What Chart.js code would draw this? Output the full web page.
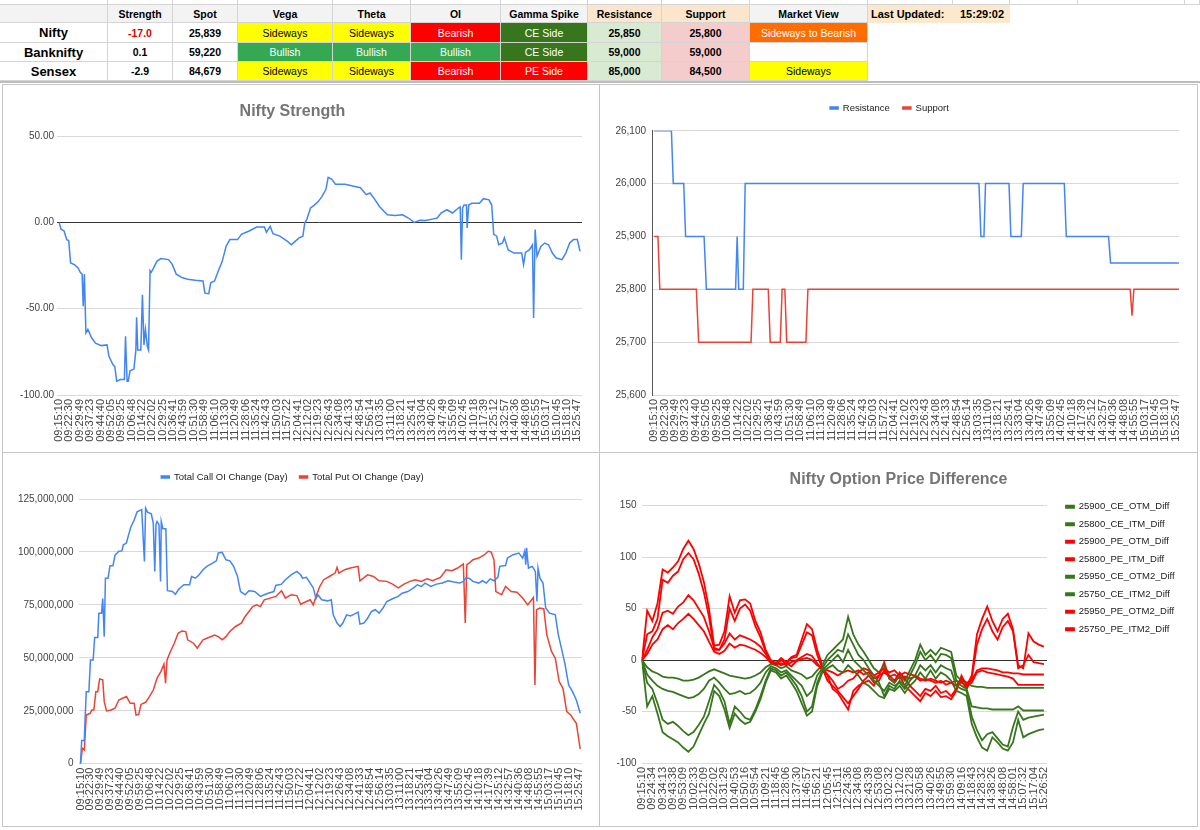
<!DOCTYPE html>
<html lang="en">
<head>
<meta charset="utf-8">
<title>Market Dashboard</title>
<script src="https://cdn.jsdelivr.net/npm/chart.js@4.4.1/dist/chart.umd.min.js"></script>
<style>
  html, body { margin: 0; padding: 0; background: #fff; }
  body { position: relative; width: 1200px; height: 830px; overflow: hidden;
         font-family: "Liberation Sans", Arial, sans-serif; }
  .cell { position: absolute; box-sizing: border-box; display: flex; align-items: center;
          justify-content: center; border-right: 1px solid #d4d4d4; border-bottom: 1px solid #d4d4d4;
          font-size: 10.5px; white-space: nowrap; color: #000; }
  .panel { position: absolute; box-sizing: border-box; border: 1px solid #c6c6c6; background: #fff; }
  .panel canvas { position: absolute; left: 0; top: 0; }
</style>
</head>
<body>
<div id="sheet"></div>
<div style="position:absolute;left:0;top:81px;width:1200px;height:2px;background:#bdbdbd"></div>

<div class="panel" style="left:2px;top:84px;width:598px;height:369px"><canvas id="strength-chart" width="596" height="367"></canvas></div>
<div class="panel" style="left:599px;top:84px;width:599px;height:369px"><canvas id="levels-chart" width="597" height="367"></canvas></div>
<div class="panel" style="left:2px;top:452px;width:598px;height:375px"><canvas id="oi-chart" width="596" height="373"></canvas></div>
<div class="panel" style="left:599px;top:452px;width:599px;height:375px"><canvas id="option-chart" width="597" height="373"></canvas></div>

<script>
// --- 1. TABLE DATA ---
const headerRow = ['', 'Strength', 'Spot', 'Vega', 'Theta', 'OI', 'Gamma Spike', 'Resistance', 'Support', 'Market View'];
const headerFill = ['#f3f3f3', '#f3f3f3', '#f3f3f3', '#f3f3f3', '#f3f3f3', '#f3f3f3', '#f3f3f3', '#fce5cd', '#fce5cd', '#f3f3f3'];
const indexRows = [
    ['Nifty', '-17.0', '25,839', 'Sideways', 'Sideways', 'Bearish', 'CE Side', '25,850', '25,800', 'Sideways to Bearish'],
    ['Banknifty', '0.1', '59,220', 'Bullish', 'Bullish', 'Bullish', 'CE Side', '59,000', '59,000', ''],
    ['Sensex', '-2.9', '84,679', 'Sideways', 'Sideways', 'Bearish', 'PE Side', '85,000', '84,500', 'Sideways']
];
const strengthTone = ['#e00000', '#000', '#000'];
const lastUpdated = '15:29:02';

// --- 2. CHART DATA ---
// x values are positions along the time axis, counted in tick labels
const sessionTimes = ['09:15:10','09:22:30','09:29:49','09:37:23','09:44:40','09:52:05','09:59:25','10:06:48','10:14:22','10:22:02',
    '10:29:25','10:36:41','10:43:59','10:51:30','10:58:49','11:06:10','11:13:30','11:20:49','11:28:06','11:35:24',
    '11:42:43','11:50:03','11:57:22','12:04:41','12:12:02','12:19:23','12:26:43','12:34:08','12:41:33','12:48:54',
    '12:56:14','13:03:35','13:11:00','13:18:21','13:25:41','13:33:04','13:40:26','13:47:49','13:55:09','14:02:45',
    '14:10:18','14:17:39','14:25:12','14:32:57','14:40:36','14:48:08','14:55:55','15:03:17','15:10:45','15:18:10','15:25:47'];

const optionTimes = ['09:15:10','09:24:34','09:34:13','09:43:38','09:53:09','10:02:33','10:12:09','10:22:02','10:31:29','10:40:53',
    '10:50:16','10:59:54','11:09:21','11:18:45','11:28:06','11:37:30','11:46:57','11:56:21','12:05:45','12:15:11',
    '12:24:36','12:34:08','12:43:39','12:53:08','13:02:32','13:12:02','13:21:28','13:30:58','13:40:26','13:49:55',
    '13:59:30','14:09:16','14:18:43','14:28:32','14:38:26','14:48:08','14:58:01','15:07:32','15:17:04','15:26:52'];

const niftyStrength = [[0,0],[0.19,-4],[0.48,-5],[0.74,-10],[0.93,-10.5],[1.11,-23.5],[1.48,-24.5],[1.85,-26.5],[2.04,-29],[2.22,-30],
    [2.33,-48.6],[2.44,-30],[2.59,-64],[2.78,-62],[3.15,-67],[3.52,-70],[4.07,-71.4],[4.63,-71],[4.81,-77.6],[5.19,-82.4],
    [5.37,-83.4],[5.56,-92],[5.93,-91],[6.30,-91],[6.41,-66],[6.56,-92],[6.67,-92],[6.85,-86],[7.22,-85],[7.41,-74],
    [7.48,-55],[7.59,-74],[7.89,-74],[8.04,-42],[8.19,-71],[8.33,-62],[8.52,-72],[8.63,-74],[8.78,-28],[8.89,-29],
    [9.07,-27],[9.44,-22.6],[9.81,-21],[10.56,-21.6],[10.93,-24.5],[11.30,-30],[11.85,-32],[12.41,-33],[13.15,-33.6],[13.89,-34],
    [14.07,-41],[14.44,-41.3],[14.63,-35],[15.0,-34],[15.37,-28],[15.74,-22.6],[16.11,-14],[16.48,-10],[17.22,-10],[17.59,-7],
    [18.33,-5],[19.07,-2.7],[19.81,-2.7],[20.0,-5.8],[20.37,-2.3],[20.63,-6.6],[21.30,-8],[22.04,-11],[22.41,-13],[22.78,-11],
    [23.15,-9],[23.52,-8],[23.70,-0.4],[23.89,1.5],[24.26,8.3],[24.63,10],[25.0,12],[25.37,15],[25.74,19],[25.96,26],
    [26.30,25],[26.67,22],[27.22,22],[27.59,22],[28.33,21],[29.07,20],[29.63,16],[30.0,17],[30.37,14],[30.93,9],
    [31.67,4.4],[32.41,3.9],[33.15,4.4],[33.70,2.5],[34.26,0],[34.81,1.2],[35.37,1],[36.11,2],[36.48,2.5],[36.85,5.4],
    [37.41,7.3],[37.96,5.4],[38.52,8.3],[38.70,9],[38.81,-21.6],[38.93,8.3],[39.07,10],[39.30,10],[39.37,-3.3],[39.52,10],
    [39.81,11],[40.56,11],[40.93,13.7],[41.48,13],[41.74,10],[41.93,-7],[42.22,-8],[42.41,-13],[42.78,-12],[42.96,-9],
    [43.33,-16],[43.89,-17.8],[44.63,-17.8],[44.81,-24.5],[45.0,-17.4],[45.37,-16],[45.67,-13],[45.78,-55.4],[45.93,-4.2],[46.11,-19.7],
    [46.48,-14],[46.85,-12],[47.22,-13],[47.59,-17.8],[47.96,-20.7],[48.52,-21.6],[48.89,-17.8],[49.26,-12],[49.63,-10],[50.0,-10],
    [50.26,-16.8]];

const resistanceLevels = [[0,26100],[1.66,26100],[1.84,26000],[2.84,26000],[3.02,25900],[4.79,25900],[5.01,25800],[7.81,25800],
    [7.96,25900],[8.11,25800],[8.55,25800],[8.73,26000],[31.13,26000],[31.32,25900],[31.61,25900],[31.76,26000],[34.01,26000],
    [34.19,25900],[35.19,25900],[35.37,26000],[39.31,26000],[39.50,25900],[43.55,25900],[43.74,25850],[50.29,25850]];
const supportLevels = [[0,25900],[0.37,25900],[0.55,25800],[4.05,25800],[4.27,25700],[9.29,25700],[9.47,25800],[10.94,25800],
    [11.13,25700],[12.09,25700],[12.27,25800],[12.53,25800],[12.71,25700],[14.55,25700],[14.74,25800],[45.62,25800],
    [45.80,25750],[45.98,25800],[50.29,25800]];

// open interest change, in millions of contracts
const callOiMillions = [[0,0],[0.12,11],[0.38,11],[0.46,21],[0.58,34],[0.84,34],[1.0,49],[1.27,49],[1.42,59.6],[1.73,59.6],
    [1.84,71],[2.11,71],[2.23,78],[2.38,60],[2.50,87.6],[2.76,87.6],[2.96,93.5],[3.26,93.5],[3.46,98.4],[3.84,100.3],
    [4.15,100.5],[4.30,103.4],[4.61,104.2],[4.80,107.7],[5.07,112],[5.38,115],[5.68,119],[6.14,120],[6.41,95.5],[6.53,120.7],
    [6.72,118.8],[7.10,118],[7.30,113.6],[7.45,90.8],[7.57,112.9],[7.68,114.4],[7.87,112.9],[8.03,86],[8.10,114.4],[8.26,111],
    [8.56,111],[8.72,81.7],[9.22,81.3],[9.52,80],[9.79,82],[9.98,83],[10.37,84.5],[10.94,84.5],[11.14,88.4],[11.52,87.6],
    [11.90,89.2],[12.29,91.6],[12.67,93.2],[13.25,94.7],[13.63,95.8],[13.82,99.5],[14.21,99.8],[14.59,96.3],[14.98,95.8],[15.36,93.2],
    [15.75,88.4],[16.05,81.3],[16.51,79.8],[16.90,81.7],[17.47,81.3],[18.05,79],[18.43,79.8],[18.82,80.5],[19.39,81.3],[19.59,84.2],
    [20.16,84.8],[20.55,86.9],[21.12,89.2],[21.70,90.8],[22.08,89.2],[22.27,87.6],[22.66,88],[23.04,85.3],[23.35,83],[23.62,78],
    [23.81,79.8],[24.19,77.4],[24.77,76.9],[25.15,77.4],[25.35,70.3],[25.73,66.4],[26.04,64.8],[26.31,66.4],[26.69,70.3],[27.07,69.8],
    [27.46,70.6],[27.84,71.6],[28.03,65.9],[28.42,66.4],[28.80,68.7],[29.19,71.9],[29.57,72.7],[29.95,71.1],[30.34,73.5],[30.72,76.6],
    [31.30,77.9],[31.87,79],[32.26,80.5],[32.83,81.3],[33.41,83],[33.79,84.5],[34.18,83.7],[34.56,85.3],[35.14,83.7],[35.71,84.8],
    [36.29,85.3],[36.87,86.4],[37.44,85.8],[38.02,85.3],[38.40,86.1],[38.63,87.6],[38.98,87.6],[39.36,86.1],[39.94,85.3],[40.32,86.4],
    [40.71,85.3],[41.09,87.3],[41.47,86.4],[41.86,88],[42.05,93.2],[42.63,93.6],[42.82,97.1],[43.39,98.7],[43.97,99.5],[44.35,97.1],
    [44.55,100.3],[44.66,94],[44.74,102],[44.93,92.4],[45.31,93.2],[45.62,90.8],[45.78,76.6],[45.89,92.4],[46.08,87.6],[46.39,85.3],
    [46.66,73.5],[47.04,71.1],[47.62,70.3],[47.93,60.8],[48.20,55.3],[48.58,47.4],[48.96,37.2],[49.35,34],[49.73,30.1],[50.12,23.8]];
const putOiMillions = [[0,0],[0.19,7.3],[0.38,6.5],[0.58,23],[0.96,23.8],[1.15,25.4],[1.34,25.4],[1.54,34],[1.73,34],[1.92,40],
    [2.23,39.6],[2.38,29.3],[2.61,24.9],[3.07,25.4],[3.46,26.2],[3.84,30.1],[4.22,30.9],[4.61,31.7],[4.99,28.5],[5.38,28.5],
    [5.57,23],[5.84,23.3],[6.07,28],[6.53,29],[6.91,31.7],[7.30,34.8],[7.68,40.4],[8.06,43.5],[8.37,47],[8.53,38],
    [8.68,49],[9.02,53],[9.41,56.9],[9.79,61.6],[10.18,62.7],[10.56,62.4],[10.75,58.5],[11.33,56.9],[11.71,54.5],[12.29,58.5],
    [12.86,59.6],[13.44,60.8],[13.82,60],[14.21,58.5],[14.59,60],[14.98,62.4],[15.55,64.8],[16.13,66.4],[16.51,69.5],[16.90,71.9],
    [17.28,74.2],[17.67,75],[18.05,74.2],[18.43,77.4],[19.01,78.2],[19.59,79],[20.16,81.7],[20.55,78.2],[21.12,79.8],[21.70,79.4],
    [22.08,75.3],[22.66,76.6],[23.04,77.4],[23.35,75],[23.62,79],[24.0,83.7],[24.39,86.9],[24.96,88.4],[25.54,90],[25.73,92.7],
    [25.92,90],[26.50,91.6],[27.07,92.4],[27.84,93.2],[28.03,86.4],[28.80,89.2],[29.38,88.4],[29.95,86.4],[30.72,86.1],[31.30,84.8],
    [31.87,83],[32.45,84.8],[33.03,86.1],[33.60,86.9],[34.18,86.1],[34.75,87.3],[35.33,86.4],[36.10,88],[36.67,91.6],[37.25,91.1],
    [37.83,92.4],[38.40,94.3],[38.59,66.4],[38.75,94],[38.98,94.7],[39.36,96.3],[39.94,97.1],[40.52,98.7],[40.90,100.3],[41.20,99.9],
    [41.47,96.3],[41.66,81.3],[42.24,79.8],[42.63,83.7],[43.20,81.3],[43.78,81],[44.35,78.2],[44.85,75],[45.12,76.6],[45.43,78.5],
    [45.58,37.2],[45.74,72.7],[46.08,73.5],[46.47,73.1],[46.77,60.8],[47.24,53],[47.62,49.8],[48.01,38.8],[48.39,35.6],[48.77,24.6],
    [49.16,23],[49.73,19.1],[50.12,6.9]];

// option price differences, one reading every half tick label
const OPTION_STEP = 0.5;
const ce25900Otm = [0,-14,-20,-25,-28,-30,-31,-33,-35,-37, -36,-33,-28,-20,-17,-22,-28,-33,-32,-30, -33,-32,-28,-22,-12,-6,-8,-12,-10,-15,
    -20,-25,-35,-30,-15,-8,0,5,10,8, 25,15,5,0,-8,-15,-22,-35,-25,-28, -20,-25,-15,-5,8,0,5,-2,6,5,
    2,-20,-25,-28,-45,-46,-47,-47,-48,-48, -48,-48,-48,-45,-49,-49,-49,-49,-49];
const ce25800Itm = [0,-22,-28,-42,-58,-62,-60,-64,-69,-73, -70,-63,-55,-40,-24,-30,-40,-62,-45,-50, -56,-58,-48,-35,-20,-8,-10,-15,-12,-18,
    -25,-35,-50,-45,-22,-10,-5,0,5,-2, 10,0,-5,-10,-15,-20,-25,-30,-22,-25, -22,-28,-20,-15,-5,-10,-5,-12,-5,-8,
    -10,-25,-28,-30,-55,-68,-78,-72,-70,-76, -82,-84,-65,-50,-58,-56,-55,-54,-53];
const pe25900Otm = [0,25,28,40,78,75,82,86,98,104, 98,84,66,42,10,10,20,50,38,50, 54,48,33,22,8,-2,-5,0,-4,2,
    3,15,27,24,5,-8,-20,-25,-30,-36, -42,-35,-28,-20,-15,-22,-20,-10,-15,-20, -12,-18,-25,-30,-35,-28,-30,-25,-32,-30,
    -35,-28,-20,-28,-18,15,30,40,28,20, 32,38,28,-8,-5,5,-2,-3,-4];
const pe25800Itm = [0,10,22,30,46,48,45,52,56,63, 58,50,42,28,12,10,16,26,20,24, 22,20,17,13,6,-2,-4,-3,-5,-2,
    0,3,6,4,-3,-10,-14,-20,-28,-25, -20,-18,-12,-8,-10,-15,-12,-8,-12,-10, -15,-12,-14,-15,-18,-20,-18,-20,-22,-20,
    -22,-25,-18,-22,-20,-10,-8,-8,-9,-10, -12,-12,-13,-13,-14,-14,-14,-14,-14];
const ce25950Otm2 = [0,-7,-11,-13,-16,-17,-17,-18,-20,-20, -19,-17,-14,-11,-9,-11,-13,-15,-16,-17, -18,-17,-15,-12,-7,-4,-5,-8,-6,-10,
    -12,-14,-18,-16,-10,-5,5,10,15,20, 42,25,15,8,0,-8,-12,-5,-18,-22, -15,-20,-10,0,15,5,10,5,12,10,
    8,-15,-20,-22,-25,-26,-26,-27,-27,-27, -27,-27,-27,-27,-27,-27,-27,-27,-27];
const ce25750Itm2 = [0,-45,-35,-52,-70,-74,-77,-80,-85,-89, -84,-73,-62,-52,-30,-35,-48,-66,-52,-58, -62,-60,-50,-38,-22,-10,-12,-18,-15,-22,
    -30,-42,-54,-50,-25,-12,-8,-5,-10,-12, -5,-10,-15,-22,-25,-30,-35,-37,-28,-30, -25,-32,-25,-20,-12,-18,-10,-18,-12,-15,
    -20,-30,-32,-35,-62,-75,-85,-88,-75,-80, -86,-88,-80,-58,-75,-72,-70,-68,-67];
const pe25950Otm2 = [0,48,38,55,88,85,90,96,108,116, 108,94,76,50,14,15,28,62,46,58, 59,55,38,27,10,0,-3,2,-2,3,
    5,20,35,30,10,-5,-15,-28,-32,-40, -48,-30,-25,-22,-20,-25,-15,-2,-18,-22, -15,-25,-30,-35,-40,-32,-35,-30,-36,-35,
    -38,-30,-15,-25,-15,25,40,52,38,28, 40,45,30,-5,-8,26,18,15,13];
const pe25750Itm2 = [0,6,15,20,30,34,30,36,40,45, 40,34,28,18,8,6,9,16,12,15, 14,12,10,7,3,-3,-2,-5,-3,-6,
    -1,1,2,0,-5,-8,-10,-12,-15,-12, -10,-12,-10,-14,-12,-18,-15,-12,-16,-14, -18,-16,-18,-16,-20,-18,-20,-22,-20,-24,
    -22,-20,-22,-25,-22,-12,-10,-12,-13,-14, -15,-16,-18,-24,-24,-24,-24,-24,-24];

// --- 3. SHEET TABLE ---
const sheet = document.getElementById('sheet');
const colEdges = [0, 108, 173, 238, 333, 411, 501, 588, 662, 750, 868];
const rowEdges = [5, 23, 43, 62, 81];
const statusStyle = {
    'Sideways': ['#ffff00', '#000'],
    'Bullish': ['#34a853', '#fff'],
    'Bearish': ['#ff0000', '#fff'],
    'CE Side': ['#38761d', '#fff'],
    'PE Side': ['#ff0000', '#fff'],
    'Sideways to Bearish': ['#ff6d01', '#fff']
};

function putCell(x0, x1, y0, y1, text, css) {
    const el = document.createElement('div');
    el.className = 'cell';
    el.style.left = x0 + 'px';
    el.style.top = y0 + 'px';
    el.style.width = (x1 - x0) + 'px';
    el.style.height = (y1 - y0) + 'px';
    Object.assign(el.style, css || {});
    el.textContent = text;
    sheet.appendChild(el);
}

// strip of the row above, cut off by the screenshot
const stripEdges = colEdges.concat([953, 1010, 1078, 1185, 1200]);
for (let i = 0; i < stripEdges.length - 1; i++) {
    putCell(stripEdges[i], stripEdges[i + 1], -12, 5, '');
}

headerRow.forEach((text, c) => {
    putCell(colEdges[c], colEdges[c + 1], rowEdges[0], rowEdges[1], text,
        { background: headerFill[c], fontWeight: 'bold' });
});

indexRows.forEach((row, r) => {
    row.forEach((text, c) => {
        const css = {};
        if (c === 0) { css.fontWeight = 'bold'; css.fontSize = '13px'; }
        if (c === 1) { css.fontWeight = 'bold'; css.color = strengthTone[r]; }
        if (c === 2) css.fontWeight = 'bold';
        if (c === 7) { css.fontWeight = 'bold'; css.background = '#d9ead3'; }
        if (c === 8) { css.fontWeight = 'bold'; css.background = '#f4cccc'; }
        if (statusStyle[text]) { css.background = statusStyle[text][0]; css.color = statusStyle[text][1]; }
        putCell(colEdges[c], colEdges[c + 1], rowEdges[r + 1], rowEdges[r + 2], text, css);
    });
});

putCell(868, 953, 5, 23, 'Last Updated:', { background: '#fce8cc', fontWeight: 'bold', justifyContent: 'flex-start',
    paddingLeft: '3px', borderRight: 'none', borderBottom: 'none', fontSize: '11px' });
putCell(953, 1010, 5, 23, lastUpdated, { background: '#fce8cc', fontWeight: 'bold', justifyContent: 'flex-start',
    paddingLeft: '7px', borderRight: 'none', borderBottom: 'none', fontSize: '11px' });

// --- 4. CHART HELPERS ---
const FONT = '"Liberation Sans", Arial, sans-serif';
const BLUE = '#4285f4';
const RED = '#ea4335';
const OPT_GREEN = '#38761d';
const OPT_RED = '#ff0000';
Chart.defaults.font.family = FONT;
Chart.defaults.color = '#444';

const toXY = (pairs, unit = 1) => pairs.map(([x, y]) => ({ x, y: y * unit }));
const toSeries = (values) => values.map((y, i) => ({ x: i * OPTION_STEP, y }));

// legend spacing tweaks, so the plot area lands where the sheet chart has it
const legendFit = {
    id: 'legendFit',
    beforeInit(chart, args, opts) {
        const legend = chart.legend;
        if (!legend) return;
        const fit = legend.fit;
        legend.fit = function () {
            fit.call(this);
            if (opts.gap) this.height += opts.gap;
            if (opts.width) this.width = opts.width;
        };
    },
    afterLayout(chart, args, opts) {
        const legend = chart.legend;
        if (!legend) return;
        if (opts.shiftX) { legend.left += opts.shiftX; legend.right += opts.shiftX; }
        if (opts.shiftY) { legend.top += opts.shiftY; legend.bottom += opts.shiftY; }
    }
};

function timeAxis(labels, min, max, height) {
    return {
        type: 'linear', min, max, bounds: 'data',
        grid: { display: false, drawTicks: false },
        border: { display: false },
        afterBuildTicks: (scale) => { scale.ticks = labels.map((_, i) => ({ value: i })); },
        afterFit: (scale) => { scale.height = height; },
        ticks: {
            autoSkip: false, minRotation: 90, maxRotation: 90, padding: 4,
            color: '#444', font: { size: 11 },
            callback: (value, index) => labels[index]
        }
    };
}

function valueAxis({ min, max, step, width, pad, format, darkZero, axisLine }) {
    return {
        type: 'linear', min, max,
        afterFit: (scale) => { scale.width = width; },
        grid: {
            drawTicks: false,
            color: (c) => (darkZero && c.tick && c.tick.value === 0) ? '#333' : '#d9d9d9'
        },
        border: { display: !!axisLine, color: '#555', width: 1 },
        ticks: { stepSize: step, padding: pad, color: '#444', font: { size: 10 }, callback: format }
    };
}

function lineSet(label, data, color, width) {
    return {
        label, data, borderColor: color, backgroundColor: color,
        borderWidth: width, pointRadius: 0, tension: 0, fill: false
    };
}

const legendLabels = (padding) => ({
    boxWidth: 8, boxHeight: 2, padding, color: '#222', font: { size: 9.5 }
});
const commaFormat = (v) => v.toLocaleString('en-US');

// --- 5. CHARTS ---
new Chart(document.getElementById('strength-chart'), {
    type: 'line',
    data: { datasets: [lineSet('Nifty Strength', toXY(niftyStrength), BLUE, 1.5)] },
    options: {
        responsive: false, animation: false, events: [],
        layout: { padding: { left: 0, right: 17, top: 0, bottom: 0 } },
        plugins: {
            legend: { display: false },
            tooltip: { enabled: false },
            title: {
                display: true, text: 'Nifty Strength', color: '#757575',
                font: { size: 16, weight: 'bold' }, padding: { top: 17.4, bottom: 14.4 }
            }
        },
        scales: {
            x: timeAxis(sessionTimes, -0.2, 50.45, 57),
            y: valueAxis({ min: -100, max: 50, step: 50, width: 54, pad: 3,
                format: (v) => v.toFixed(2), darkZero: true })
        }
    }
});

new Chart(document.getElementById('levels-chart'), {
    type: 'line',
    data: {
        datasets: [
            lineSet('Resistance', toXY(resistanceLevels), BLUE, 1.5),
            lineSet('Support', toXY(supportLevels), RED, 1.5)
        ]
    },
    plugins: [legendFit],
    options: {
        responsive: false, animation: false, events: [],
        layout: { padding: { left: 0, right: 18, top: 5.25, bottom: 0 } },
        plugins: {
            legend: { position: 'top', labels: legendLabels(13) },
            legendFit: { gap: 8 },
            tooltip: { enabled: false }
        },
        scales: {
            x: timeAxis(sessionTimes, -0.2, 50.3, 57),
            y: valueAxis({ min: 25600, max: 26100, step: 100, width: 52, pad: 6,
                format: commaFormat, axisLine: true })
        }
    }
});

new Chart(document.getElementById('oi-chart'), {
    type: 'line',
    data: {
        datasets: [
            lineSet('Total Call OI Change (Day)', toXY(callOiMillions, 1e6), BLUE, 1.5),
            lineSet('Total Put OI Change (Day)', toXY(putOiMillions, 1e6), RED, 1.5)
        ]
    },
    plugins: [legendFit],
    options: {
        responsive: false, animation: false, events: [],
        layout: { padding: { left: 0, right: 17, top: 7.25, bottom: 0 } },
        plugins: {
            legend: { position: 'top', labels: legendLabels(12) },
            legendFit: { gap: 7.25 },
            tooltip: { enabled: false }
        },
        scales: {
            x: timeAxis(sessionTimes, -0.2, 50.3, 62.3),
            y: valueAxis({ min: 0, max: 125000000, step: 25000000, width: 75.5, pad: 5,
                format: commaFormat })
        }
    }
});

new Chart(document.getElementById('option-chart'), {
    type: 'line',
    data: {
        datasets: [
            lineSet('25900_CE_OTM_Diff', toSeries(ce25900Otm), OPT_GREEN, 1.8),
            lineSet('25800_CE_ITM_Diff', toSeries(ce25800Itm), OPT_GREEN, 1.8),
            lineSet('25900_PE_OTM_Diff', toSeries(pe25900Otm), OPT_RED, 1.8),
            lineSet('25800_PE_ITM_Diff', toSeries(pe25800Itm), OPT_RED, 1.8),
            lineSet('25950_CE_OTM2_Diff', toSeries(ce25950Otm2), OPT_GREEN, 1.8),
            lineSet('25750_CE_ITM2_Diff', toSeries(ce25750Itm2), OPT_GREEN, 1.8),
            lineSet('25950_PE_OTM2_Diff', toSeries(pe25950Otm2), OPT_RED, 1.8),
            lineSet('25750_PE_ITM2_Diff', toSeries(pe25750Itm2), OPT_RED, 1.8)
        ]
    },
    plugins: [legendFit],
    options: {
        responsive: false, animation: false, events: [],
        layout: { padding: { left: 0, right: 0, top: 0, bottom: 0 } },
        plugins: {
            title: {
                display: true, text: 'Nifty Option Price Difference', color: '#757575',
                font: { size: 16, weight: 'bold' }, padding: { top: 17.4, bottom: 16.1 }
            },
            legend: { position: 'right', align: 'start', labels: legendLabels(8) },
            legendFit: { width: 150, shiftX: 11, shiftY: 41 },
            tooltip: { enabled: false }
        },
        scales: {
            x: timeAxis(optionTimes, -0.05, 39.3, 63),
            y: valueAxis({ min: -100, max: 150, step: 50, width: 41.5, pad: 5,
                format: (v) => String(v), darkZero: true })
        }
    }
});
</script>
</body>
</html>
